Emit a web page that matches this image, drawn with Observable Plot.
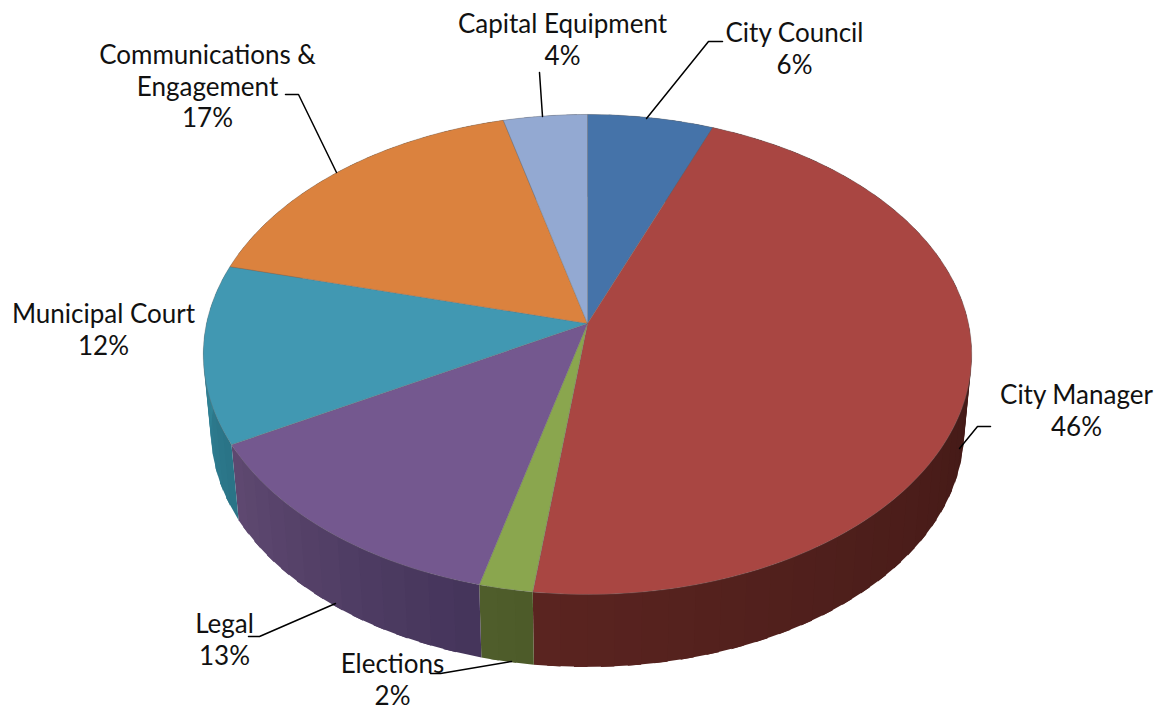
<!DOCTYPE html>
<html>
<head>
<meta charset="utf-8">
<script src="https://cdn.jsdelivr.net/npm/d3@7"></script>
<script src="https://cdn.jsdelivr.net/npm/@observablehq/plot@0.6"></script>
<style>
  html, body { margin: 0; padding: 0; background: #fff; }
  svg { display: block; }
</style>
</head>
<body>
<div id="chart"></div>
<script>
// Budget shares by department, clockwise from twelve o'clock.
const departments = ["City Council", "City Manager", "Elections", "Legal", "Municipal Court", "Communications &\nEngagement", "Capital Equipment"];
const shares = [6, 46, 2, 13, 12, 17, 4];

// Slice colours: top face, then the side wall at the start and end of each slice.
const topColors = ["#4573a9", "#a94642", "#8aa64e", "#74588f", "#4198b2", "#db823e", "#93a9d2"];
const wallFrom = ["#2f4f78", "#2f100e", "#4c5a29", "#44345a", "#2a7386", "#8f5424", "#65769a"];
const wallTo = ["#2f4f78", "#5a2420", "#4f5e2b", "#5f4971", "#348ca0", "#8f5424", "#65769a"];

// Label placement, in the same order as the departments.
const labelX = [794, 1076, 392, 224, 103, 207, 562];
const labelY = [47, 409, 678, 638, 328, 85, 38];

// Leader lines joining labels to their slices.
const leaders = [
  [[646, 118], [708, 41], [722, 41]],
  [[959, 448], [977, 426], [990, 426]],
  [[511, 661], [440, 673], [430, 673]],
  [[335, 603], [259, 636], [248, 636]],
  [[336, 172], [298, 94], [285, 94]],
  [[542, 116], [539, 72]]
];

// Perspective view of the tilted disc.
const apex = {x: 587, y: 323};
const radiusX = 381, radiusY = 236, foreshorten = 0.129;
const wallDrop = 78, wallScale = 0.98;

function rim(turn, lower = false) {
  const a = turn * 2 * Math.PI;
  const X = Math.sin(a), Y = -Math.cos(a);
  const w = 1 - foreshorten * Y;
  const s = lower ? wallScale : 1;
  return {
    x: apex.x + s * radiusX * X / w,
    y: apex.y + (lower ? wallDrop : 0) + s * radiusY * Y / w
  };
}

// Cumulative turn boundaries for each slice.
const total = d3.sum(shares);
const bounds = d3.cumsum([0, ...shares]).map((c) => c / total);

// Top faces: apex, then a run of points along the rim.
const faces = [];
shares.forEach((_, i) => {
  const steps = Math.max(4, shares[i] * 3);
  faces.push({slice: i, ...apex});
  for (let k = 0; k <= steps; ++k) {
    const t = bounds[i] + (bounds[i + 1] - bounds[i]) * k / steps;
    faces.push({slice: i, ...rim(t)});
  }
  faces.push({slice: i, ...apex});
});

// Side wall: quads around the rim, shaded along each slice. Each quad runs on
// under the next one so that no gaps open up between them.
const walls = [];
let quad = 0;
shares.forEach((_, i) => {
  const steps = Math.max(3, shares[i]);
  const shade = d3.interpolateRgb(wallFrom[i], wallTo[i]);
  const span = (bounds[i + 1] - bounds[i]) / steps;
  for (let k = 0; k < steps; ++k) {
    const t0 = bounds[i] + span * k;
    const t1 = bounds[i] + span * Math.min(k + 1.5, steps);
    const fill = shade((k + 0.5) / steps);
    for (const p of [rim(t0), rim(t1), rim(t1, true), rim(t0, true), rim(t0)]) {
      walls.push({quad, fill, ...p});
    }
    ++quad;
  }
});

const leaderPoints = leaders.flatMap((points, id) => points.map(([x, y]) => ({id, x, y})));
const labels = departments.map((name, i) => ({
  text: `${name}\n${shares[i]}%`, x: labelX[i], y: labelY[i]
}));

const chart = Plot.plot({
  width: 1162,
  height: 707,
  margin: 0,
  style: {background: "#fff"},
  x: {domain: [0, 1162], range: [0, 1162], axis: null},
  y: {domain: [0, 707], range: [0, 707], axis: null},
  marks: [
    Plot.line(walls, {x: "x", y: "y", z: "quad", fill: "fill", stroke: null, curve: "linear"}),
    Plot.line(faces, {
      x: "x", y: "y", z: "slice",
      fill: (d) => topColors[d.slice],
      stroke: "#6b6b6b", strokeOpacity: 0.35, strokeWidth: 1, curve: "linear"
    }),
    Plot.line(leaderPoints, {x: "x", y: "y", z: "id", stroke: "#000", strokeWidth: 1.5, curve: "linear"}),
    Plot.text(labels, {
      x: "x", y: "y", text: "text",
      fontFamily: "Lato", fontSize: 26, lineHeight: 1.22, fill: "#111", textAnchor: "middle", lineAnchor: "middle"
    })
  ]
});
document.getElementById("chart").append(chart);
</script>
</body>
</html>
